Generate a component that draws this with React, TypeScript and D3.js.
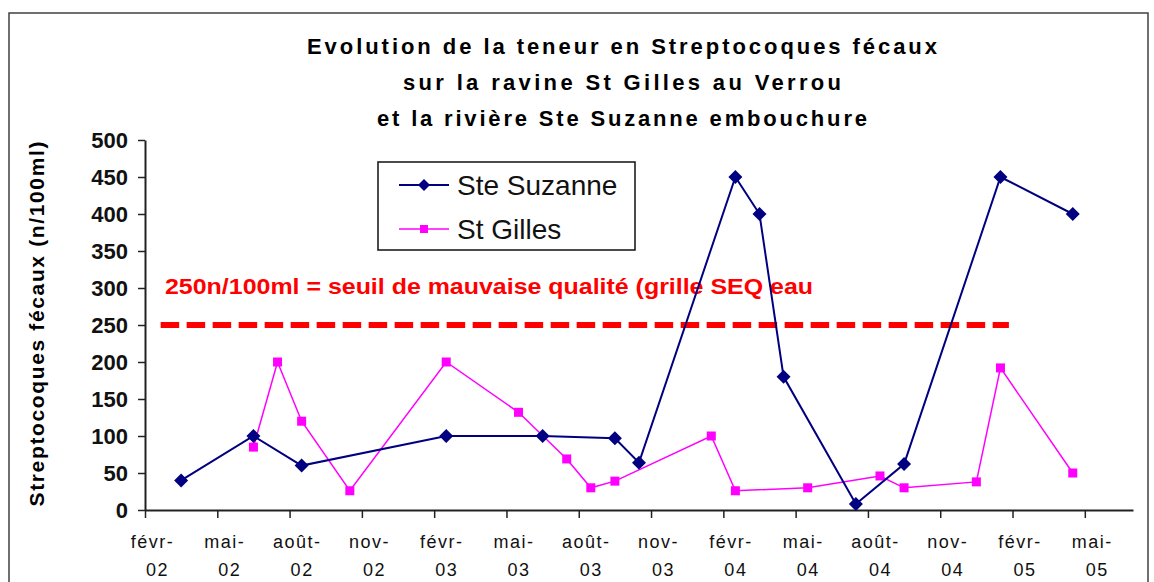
import React, { useEffect, useRef } from 'react';
import * as d3 from 'd3';

// month axis: one band per month, Feb 2002 .. Jun 2005
const axisStart = '2002-02';
const axisMonths = 41;

const tickLabels = ['févr-02', 'mai-02', 'août-02', 'nov-02', 'févr-03', 'mai-03', 'août-03', 'nov-03',
  'févr-04', 'mai-04', 'août-04', 'nov-04', 'févr-05', 'mai-05'];
const yTicks = [0, 50, 100, 150, 200, 250, 300, 350, 400, 450, 500];

const suzanneMonths = ['2002-03', '2002-06', '2002-08', '2003-02', '2003-06', '2003-09', '2003-10',
  '2004-02', '2004-03', '2004-04', '2004-07', '2004-09', '2005-01', '2005-04'];
const suzanneValues = [40, 100, 60, 100, 100, 97, 64, 450, 400, 180, 8, 62, 450, 400];

const gillesMonths = ['2002-06', '2002-07', '2002-08', '2002-10', '2003-02', '2003-05', '2003-07',
  '2003-08', '2003-09', '2004-01', '2004-02', '2004-05', '2004-08', '2004-09', '2004-12', '2005-01', '2005-04'];
const gillesValues = [85, 200, 120, 26, 200, 132, 69, 30, 39, 100, 26, 30, 46, 30, 38, 192, 50];

const thresholdValue = 250;
const thresholdSpan = [0.65, 35.85]; // in months from axis start (drawn shape in the original)
const thresholdLabel = '250n/100ml = seuil de mauvaise qualité (grille SEQ eau';

const titleLines = [
  'Evolution de la teneur en Streptocoques fécaux',
  'sur la ravine St Gilles au Verrou',
  'et la rivière Ste Suzanne embouchure',
];
const yTitle = 'Streptocoques fécaux (n/100ml)';

const FONT = '"Liberation Sans", Arial, sans-serif';

function monthIndex(s: string) {
  const [y0, m0] = axisStart.split('-').map(Number);
  const [y, m] = s.split('-').map(Number);
  return (y - y0) * 12 + (m - m0);
}

function App() {
  const svgRef = useRef<SVGSVGElement>(null);

  useEffect(() => {
    const svg = d3.select(svgRef.current);
    svg.selectAll('*').remove();

    const x = d3.scaleLinear().domain([0, axisMonths]).range([145, 1133]);
    const y = d3.scaleLinear().domain([0, 500]).range([510, 140]);
    const bw = x(1) - x(0);

    // outer frame
    svg.append('rect')
      .attr('x', 9).attr('y', 13).attr('width', 1139).attr('height', 620)
      .attr('fill', 'white').attr('stroke', '#404040').attr('stroke-width', 1.5);

    // title
    const titleW = [630, 438, 490];
    titleLines.forEach((t, i) => {
      svg.append('text')
        .attr('x', 622).attr('y', 54 + i * 36)
        .attr('text-anchor', 'middle')
        .attr('font-family', FONT).attr('font-weight', 'bold').attr('font-size', 22)
        .attr('textLength', titleW[i]).attr('lengthAdjust', 'spacing')
        .text(t);
    });

    // y axis title
    svg.append('text')
      .attr('transform', 'translate(44,324) rotate(-90)')
      .attr('text-anchor', 'middle')
      .attr('font-family', FONT).attr('font-weight', 'bold').attr('font-size', 21)
      .attr('textLength', 365).attr('lengthAdjust', 'spacing')
      .text(yTitle);

    // axes
    const yAxis = d3.axisLeft(y).tickValues(yTicks).tickSize(7).tickSizeOuter(0).tickPadding(10);
    const gy = svg.append('g').attr('transform', 'translate(145,0)').call(yAxis);
    gy.select('.domain').attr('stroke', '#222').attr('stroke-width', 2);
    gy.selectAll('.tick line').attr('stroke', '#222').attr('stroke-width', 1.5);
    gy.selectAll('.tick text')
      .attr('font-family', FONT).attr('font-weight', 'bold').attr('font-size', 22)
      .attr('fill', '#111');

    const tickIdx = tickLabels.map((d, i) => i * 3);
    const xAxis = d3.axisBottom(x).tickValues(tickIdx).tickSize(8).tickSizeOuter(0)
      .tickFormat((d, i) => tickLabels[i]);
    const gx = svg.append('g').attr('transform', 'translate(0,510)').call(xAxis);
    gx.select('.domain').attr('stroke', '#222').attr('stroke-width', 2);
    gx.selectAll('.tick line').attr('stroke', '#222').attr('stroke-width', 1.5);
    gx.selectAll('.tick text').each(function (d, i) {
      const txt = d3.select(this);
      const parts = tickLabels[i].split('-');
      txt.text(null)
        .attr('y', null).attr('dy', null)
        .attr('font-family', FONT).attr('font-size', 18).attr('letter-spacing', 1.5)
        .attr('fill', '#111');
      txt.append('tspan').attr('x', bw / 2 - 5).attr('y', 38).text(parts[0] + '-');
      txt.append('tspan').attr('x', bw / 2).attr('y', 66).text(parts[1]);
    });

    // threshold
    svg.append('line')
      .attr('x1', x(thresholdSpan[0])).attr('x2', x(thresholdSpan[1]))
      .attr('y1', y(thresholdValue)).attr('y2', y(thresholdValue))
      .attr('stroke', '#ff0000').attr('stroke-width', 6)
      .attr('stroke-dasharray', '18.5 7.5');
    svg.append('text')
      .attr('x', 165).attr('y', 294)
      .attr('font-family', FONT).attr('font-weight', 'bold').attr('font-size', 22)
      .attr('fill', '#ff0000')
      .attr('textLength', 648).attr('lengthAdjust', 'spacingAndGlyphs')
      .text(thresholdLabel);

    const line = d3.line<[number, number]>().x(d => d[0]).y(d => d[1]);

    // St Gilles
    const gPts: [number, number][] = gillesMonths.map((m, i) => [x(monthIndex(m) + 0.5), y(gillesValues[i])]);
    svg.append('path').attr('d', line(gPts))
      .attr('fill', 'none').attr('stroke', '#ff00ff').attr('stroke-width', 1.5);
    svg.selectAll('.sq').data(gPts).enter().append('rect')
      .attr('x', d => d[0] - 4.5).attr('y', d => d[1] - 4.5)
      .attr('width', 9).attr('height', 9).attr('fill', '#ff00ff');

    // Ste Suzanne
    const sPts: [number, number][] = suzanneMonths.map((m, i) => [x(monthIndex(m) + 0.5), y(suzanneValues[i])]);
    svg.append('path').attr('d', line(sPts))
      .attr('fill', 'none').attr('stroke', '#000080').attr('stroke-width', 2);
    svg.selectAll('.dm').data(sPts).enter().append('path')
      .attr('d', d => `M${d[0]},${d[1] - 7}L${d[0] + 7},${d[1]}L${d[0]},${d[1] + 7}L${d[0] - 7},${d[1]}Z`)
      .attr('fill', '#000080');

    // legend
    svg.append('rect')
      .attr('x', 378).attr('y', 162).attr('width', 257).attr('height', 88)
      .attr('fill', 'white').attr('stroke', '#111').attr('stroke-width', 1.5);
    const lg = [
      { name: 'Ste Suzanne', color: '#000080', y: 185, w: 2 },
      { name: 'St Gilles', color: '#ff00ff', y: 229, w: 1.5 },
    ];
    lg.forEach((d, i) => {
      svg.append('line').attr('x1', 399).attr('x2', 449).attr('y1', d.y).attr('y2', d.y)
        .attr('stroke', d.color).attr('stroke-width', d.w);
      if (i === 0) {
        svg.append('path').attr('d', `M424,${d.y - 6}L430,${d.y}L424,${d.y + 6}L418,${d.y}Z`).attr('fill', d.color);
      } else {
        svg.append('rect').attr('x', 420).attr('y', d.y - 4).attr('width', 8).attr('height', 8).attr('fill', d.color);
      }
      svg.append('text').attr('x', 457).attr('y', d.y + 10)
        .attr('font-family', FONT).attr('font-size', 28).attr('fill', '#111')
        .text(d.name);
    });
  }, []);

  return (
    <div>
      <svg ref={svgRef} width={1154} height={582}
        style={{ position: 'absolute', left: 0, top: 0, background: 'white' }} />
    </div>
  );
}

export default App;
